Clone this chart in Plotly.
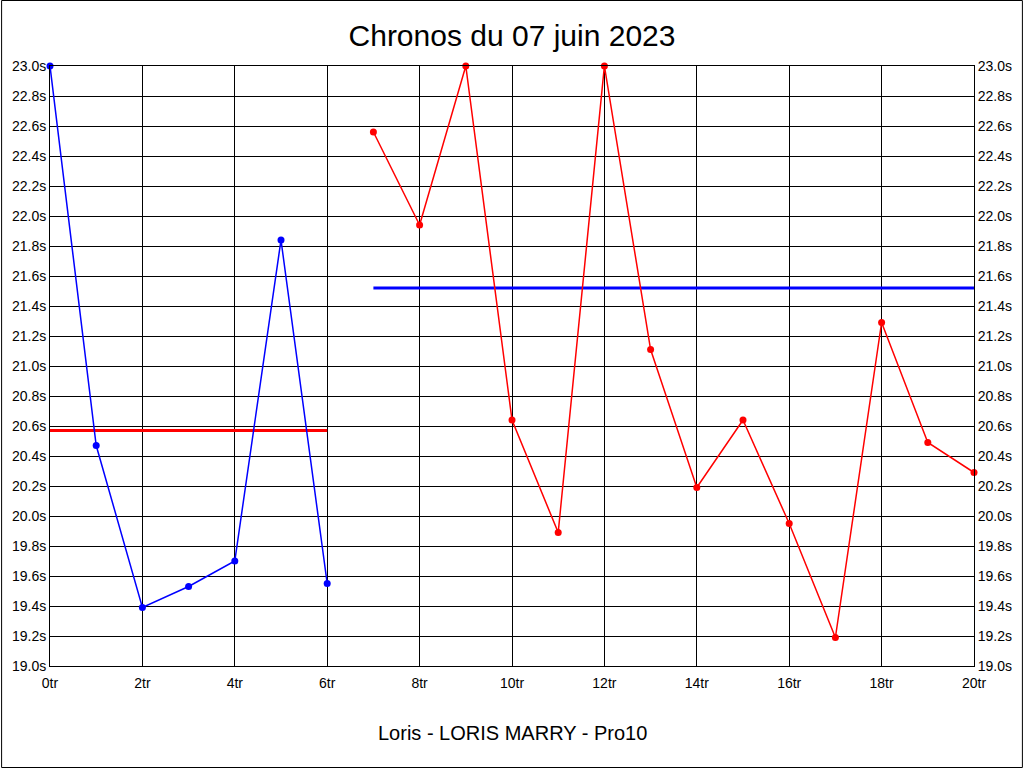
import plotly.graph_objects as go

laps_blue = [0, 1, 2, 3, 4, 5, 6]
times_blue = [23.0, 20.47, 19.39, 19.53, 19.70, 21.84, 19.55]
laps_red = [7, 8, 9, 10, 11, 12, 13, 14, 15, 16, 17, 18, 19, 20]
times_red = [22.56, 21.94, 23.0, 20.64, 19.89, 23.0, 21.11, 20.19, 20.64, 19.95, 19.19, 21.29, 20.49, 20.29]
avg_red_x = [0, 6]
avg_red = [20.57, 20.57]
avg_blue_x = [7, 20]
avg_blue = [21.52, 21.52]

title_text = "Chronos du 07 juin 2023"
xlabel_text = "Loris - LORIS MARRY - Pro10"

W, H = 1024, 768
L, R, T, B = 49, 49, 66, 102
pw, ph = W - L - R, H - T - B

fig = go.Figure()
fig.add_trace(go.Scatter(x=avg_red_x, y=avg_red, mode="lines",
                         line=dict(color="#ff0000", width=3), hoverinfo="skip"))
fig.add_trace(go.Scatter(x=avg_blue_x, y=avg_blue, mode="lines",
                         line=dict(color="#0000ff", width=3), hoverinfo="skip"))
fig.add_trace(go.Scatter(x=laps_blue, y=times_blue, mode="lines+markers",
                         line=dict(color="#0000ff", width=1.5),
                         marker=dict(color="#0000ff", size=7), cliponaxis=False))
fig.add_trace(go.Scatter(x=laps_red, y=times_red, mode="lines+markers",
                         line=dict(color="#ff0000", width=1.5),
                         marker=dict(color="#ff0000", size=7), cliponaxis=False))
# invisible trace to show the right axis
fig.add_trace(go.Scatter(x=[0, 20], y=[19, 23], yaxis="y2", mode="markers",
                         marker=dict(opacity=0), hoverinfo="skip"))

fnt = dict(family="Liberation Sans, Arial, sans-serif", size=14, color="black")
yax = dict(range=[19, 23], dtick=0.2, tick0=19, tickformat=".1f", ticksuffix="s",
           showgrid=True, gridcolor="black", gridwidth=1, zeroline=False,
           showline=True, linecolor="black", linewidth=1, ticks="", tickfont=fnt,
           fixedrange=True)
fig.update_layout(
    width=W, height=H,
    margin=dict(l=L, r=R, t=T, b=B),
    paper_bgcolor="white", plot_bgcolor="white",
    showlegend=False,
    title=dict(text=title_text, x=0.5, xanchor="center", y=1 - 35 / H, yanchor="middle",
               font=dict(family="Liberation Sans, Arial, sans-serif", size=30, color="black")),
    xaxis=dict(range=[0, 20], dtick=2, tick0=0, ticksuffix="tr",
               showgrid=True, gridcolor="black", gridwidth=1, zeroline=False,
               showline=True, linecolor="black", linewidth=1, mirror=True, ticks="",
               ticklabelstandoff=4,
               tickfont=fnt, fixedrange=True),
    yaxis=dict(side="left", **yax),
    yaxis2=dict(side="right", overlaying="y", **{**yax, "showgrid": False}),
    shapes=[dict(type="rect", xref="paper", yref="paper",
                 x0=(0.5 - L) / pw, x1=(W - 0.5 - L) / pw,
                 y0=(T + ph - (H - 0.5)) / ph, y1=(T + ph - 0.5) / ph,
                 line=dict(color="black", width=1), layer="above")],
    annotations=[dict(text=xlabel_text, xref="paper", yref="paper", x=0.5,
                      y=(T + ph - 733) / ph, xanchor="center", yanchor="middle",
                      showarrow=False,
                      font=dict(family="Liberation Sans, Arial, sans-serif", size=20, color="black"))],
)
fig.write_html("out.html", config={"displayModeBar": False},
               post_script="document.body.style.margin='0';document.body.style.overflow='hidden';")
